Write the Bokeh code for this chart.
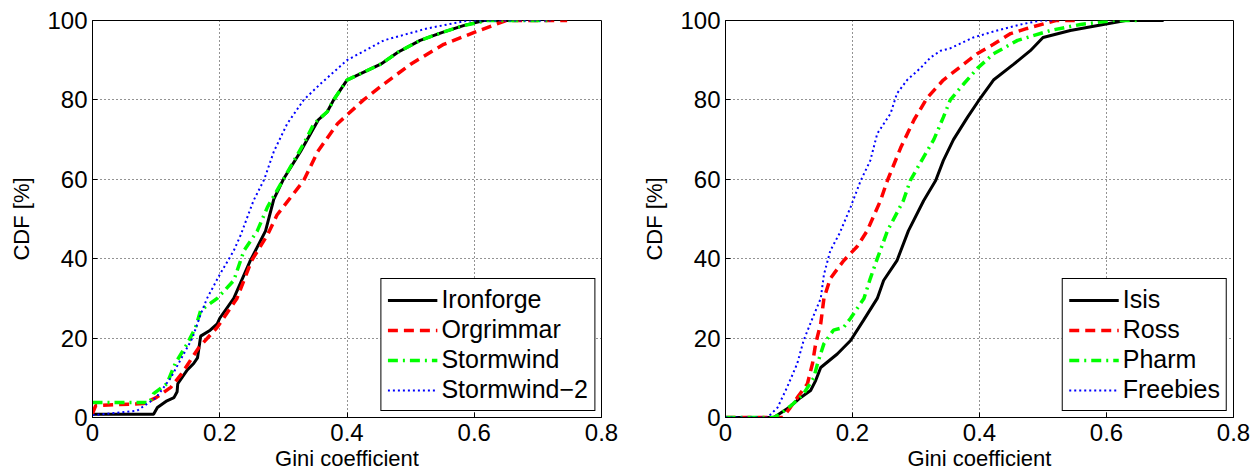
from bokeh.plotting import figure
from bokeh.layouts import row
from bokeh.models import FixedTicker, Range1d
from bokeh.embed import file_html
from bokeh.resources import INLINE

# ---- data ----
x_ticks = [0, 0.2, 0.4, 0.6, 0.8]
x_tick_labels = ["0", "0.2", "0.4", "0.6", "0.8"]
y_ticks = [0, 20, 40, 60, 80, 100]

ironforge_x = [0, 0.096, 0.102, 0.117, 0.128, 0.133, 0.134, 0.149, 0.159, 0.165, 0.17, 0.185, 0.196, 0.20, 0.222,
               0.248, 0.272, 0.285, 0.30, 0.327, 0.355, 0.369, 0.379, 0.40, 0.453, 0.48, 0.515, 0.55, 0.583, 0.615, 0.67]
ironforge_y = [0.8, 0.8, 2.5, 4.2, 5, 6.5, 8.5, 12, 13.6, 15, 20.5, 22, 23.6, 25, 30,
               39.5, 47, 55, 60, 67, 75, 77, 80, 85, 89, 92, 95, 97, 98.7, 100, 100]

orgrimmar_x = [0, 0.005, 0.08, 0.10, 0.123, 0.14, 0.167, 0.196, 0.227, 0.25, 0.275, 0.29, 0.332, 0.354, 0.385,
               0.426, 0.458, 0.50, 0.552, 0.60, 0.65, 0.746]
orgrimmar_y = [1, 3, 3.5, 5, 7.6, 11, 17.6, 22.7, 30, 39.5, 46, 51, 59.7, 67, 74,
               80, 84, 89, 94, 97, 100, 100]

stormwind_x = [0, 0.09, 0.096, 0.117, 0.13, 0.149, 0.162, 0.17, 0.196, 0.222, 0.238, 0.259, 0.275, 0.30, 0.332,
               0.348, 0.369, 0.379, 0.40, 0.453, 0.48, 0.515, 0.55, 0.583, 0.62, 0.72]
stormwind_y = [3.8, 3.8, 6, 8.5, 13.6, 18.6, 22.7, 27, 30, 34.5, 42, 47, 53, 60, 69,
               74, 77, 80, 85, 89, 92, 95, 97, 98.7, 100, 100]

stormwind2_x = [0, 0.07, 0.10, 0.123, 0.14, 0.157, 0.17, 0.18, 0.20, 0.222, 0.233, 0.253, 0.27, 0.285, 0.306,
                0.332, 0.358, 0.40, 0.458, 0.526, 0.59, 0.72]
stormwind2_y = [0.6, 1.7, 5, 10, 15, 20, 26, 30, 36, 42, 46, 54.6, 60, 67, 74,
                80, 84, 90, 95, 98, 100, 100]

isis_x = [0, 0.076, 0.10, 0.118, 0.134, 0.142, 0.15, 0.176, 0.197, 0.217, 0.239, 0.249, 0.27, 0.288, 0.312,
          0.331, 0.343, 0.359, 0.381, 0.402, 0.422, 0.454, 0.48, 0.50, 0.543, 0.595, 0.63, 0.69]
isis_y = [0, 0, 2.5, 5, 6.8, 9.3, 12.6, 16, 19.4, 24.4, 30, 34.5, 39.5, 47, 54.6,
          59.7, 64.7, 70, 75.6, 80.6, 85, 89, 92.4, 95.7, 97.5, 99, 100, 100]

ross_x = [0, 0.09, 0.102, 0.113, 0.129, 0.137, 0.142, 0.15, 0.155, 0.165, 0.186, 0.207, 0.223, 0.244, 0.255,
          0.276, 0.297, 0.318, 0.343, 0.375, 0.397, 0.422, 0.449, 0.475, 0.52, 0.55]
ross_y = [0, 0, 2.5, 5, 8.5, 13.6, 18.6, 23.7, 30, 35, 39.5, 43, 47, 54.6, 59.7,
          68, 75, 80.6, 85, 89, 91.7, 94, 96.7, 98, 100, 100]

pharm_x = [0, 0.076, 0.087, 0.107, 0.123, 0.139, 0.145, 0.155, 0.17, 0.186, 0.197, 0.218, 0.228, 0.239, 0.255,
           0.28, 0.291, 0.312, 0.328, 0.343, 0.354, 0.375, 0.397, 0.422, 0.46, 0.512, 0.559, 0.611, 0.65]
pharm_y = [0, 0, 1, 3.5, 6, 10, 13.6, 18.6, 22, 22.7, 25, 30, 35, 40, 47,
           54.6, 59.7, 65.6, 70, 75.6, 80, 84, 88, 91.6, 95, 97.5, 99, 100, 100]

freebies_x = [0, 0.066, 0.082, 0.097, 0.113, 0.123, 0.137, 0.15, 0.155, 0.165, 0.18, 0.197, 0.213, 0.228, 0.239,
              0.26, 0.27, 0.286, 0.307, 0.323, 0.339, 0.354, 0.39, 0.428, 0.465, 0.496, 0.52]
freebies_y = [0, 0, 2.5, 7.6, 13.6, 19.4, 25, 30, 36, 42, 46.5, 53, 59.7, 64.7, 71.5,
              76.6, 81.6, 85, 88, 90.7, 92.4, 93, 95.7, 97.5, 99, 100, 100]

FONT = "Liberation Sans"

STYLES = [
    dict(line_color="#000000", line_width=3, line_dash="solid"),
    dict(line_color="#FF0000", line_width=3.5, line_dash="10 6"),
    dict(line_color="#00FF00", line_width=3.5, line_dash="10 5 2 5"),
    dict(line_color="#0000FF", line_width=2, line_dash="2 3"),
]


def make_fig(series, labels, left_border, right_border):
    p = figure(width=626, height=473, output_backend="svg", toolbar_location=None,
               x_range=Range1d(0, 0.8), y_range=Range1d(0, 100),
               min_border_left=left_border, min_border_right=right_border,
               min_border_top=20, min_border_bottom=56)
    p.outline_line_color = "black"
    p.outline_line_width = 1
    p.outline_line_alpha = 1
    for (xs, ys), lab, st in zip(series, labels, STYLES):
        p.line(xs, ys, legend_label=lab, **st)
    p.xaxis.ticker = FixedTicker(ticks=x_ticks)
    p.xaxis.major_label_overrides = dict(zip(x_ticks, x_tick_labels))
    p.yaxis.ticker = FixedTicker(ticks=y_ticks)
    for ax in (p.xaxis, p.yaxis):
        ax.major_label_text_font = FONT
        ax.major_label_text_font_size = "24px"
        ax.major_label_text_color = "black"
        ax.axis_label_text_font = FONT
        ax.axis_label_text_font_size = "22px"
        ax.axis_label_text_font_style = "normal"
        ax.axis_label_text_color = "black"
        ax.axis_line_color = "black"
        ax.major_tick_in = 5
        ax.major_tick_out = 0
        ax.minor_tick_line_color = None
        ax.major_tick_line_color = "black"
    p.xaxis.axis_label = "Gini coefficient"
    p.yaxis.axis_label = "CDF [%]"
    p.xaxis.major_label_standoff = 6
    p.xaxis.axis_label_standoff = 2
    p.yaxis.major_label_standoff = 5
    p.yaxis.axis_label_standoff = 10
    p.grid.grid_line_color = "#111111"
    p.grid.grid_line_alpha = 0.9
    p.grid.grid_line_dash = "1 3"
    p.grid.grid_line_width = 1
    lg = p.legend[0]
    lg.location = "bottom_right"
    lg.margin = 6
    lg.padding = 6
    lg.spacing = 1
    lg.glyph_width = 50
    lg.glyph_height = 22
    lg.label_standoff = 4
    lg.label_text_font = FONT
    lg.label_text_font_size = "25px"
    lg.label_text_color = "black"
    lg.label_height = 22
    lg.border_line_color = "black"
    lg.border_line_width = 1
    lg.border_line_alpha = 1
    lg.background_fill_alpha = 1
    return p


left = make_fig([(ironforge_x, ironforge_y), (orgrimmar_x, orgrimmar_y),
                 (stormwind_x, stormwind_y), (stormwind2_x, stormwind2_y)],
                ["Ironforge", "Orgrimmar", "Stormwind", "Stormwind\u22122"], 92, 25)
right = make_fig([(isis_x, isis_y), (ross_x, ross_y), (pharm_x, pharm_y), (freebies_x, freebies_y)],
                 ["Isis", "Ross", "Pharm", "Freebies"], 99, 19)

layout = row(left, right)
open("out.html", "w").write(file_html(layout, INLINE))
